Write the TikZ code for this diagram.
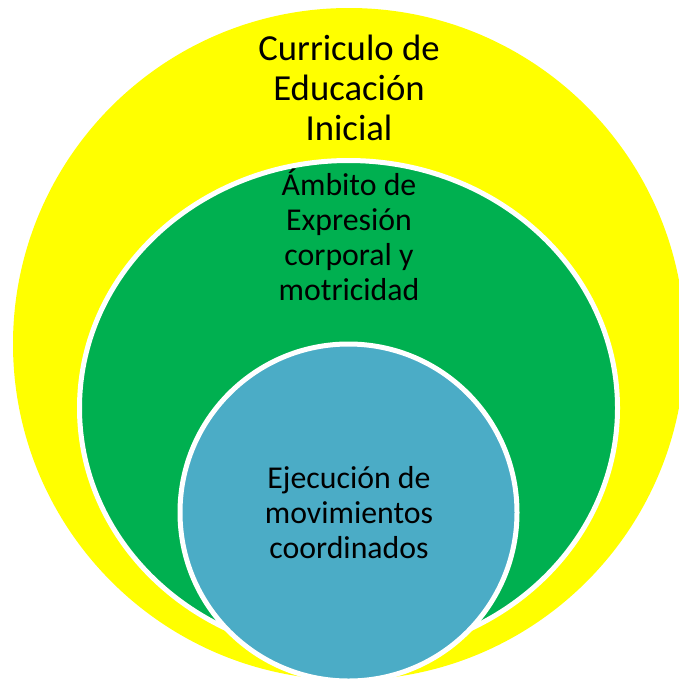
\documentclass[tikz,border=0pt]{standalone}
\usepackage{fontspec}
\setmainfont{Carlito}
\definecolor{cyel}{HTML}{FFFF00}
\definecolor{cgrn}{HTML}{00B050}
\definecolor{cblu}{HTML}{4BACC6}
\begin{document}
\begin{tikzpicture}[x=1pt,y=-1pt,
  ring/.style={draw=white,line width=5pt},
  bigtext/.style={align=center,inner sep=0pt,font=\fontsize{36.7}{40}\selectfont},
  midtext/.style={align=center,inner sep=0pt,font=\fontsize{31.8}{34.8}\selectfont}]
\useasboundingbox (0,0) rectangle (679,678);
\clip (0,0) rectangle (679,678);
\fill[cyel] (349,344) circle [radius=336];
\path[fill=cgrn,ring] (348.5,408) ellipse [x radius=269, y radius=247.5];
\path[fill=cblu,ring] (348.5,512.5) circle [radius=168.5];
\node[bigtext,anchor=base] (t1) at (349,140) {Curriculo de\\Educación\\Inicial};
\node[midtext,anchor=base] (t2) at (349,300) {Ámbito de\\Expresión\\corporal y\\motricidad};
\node[midtext,anchor=base] (t3) at (349,558) {Ejecución de\\movimientos\\coordinados};
\end{tikzpicture}
\end{document}
